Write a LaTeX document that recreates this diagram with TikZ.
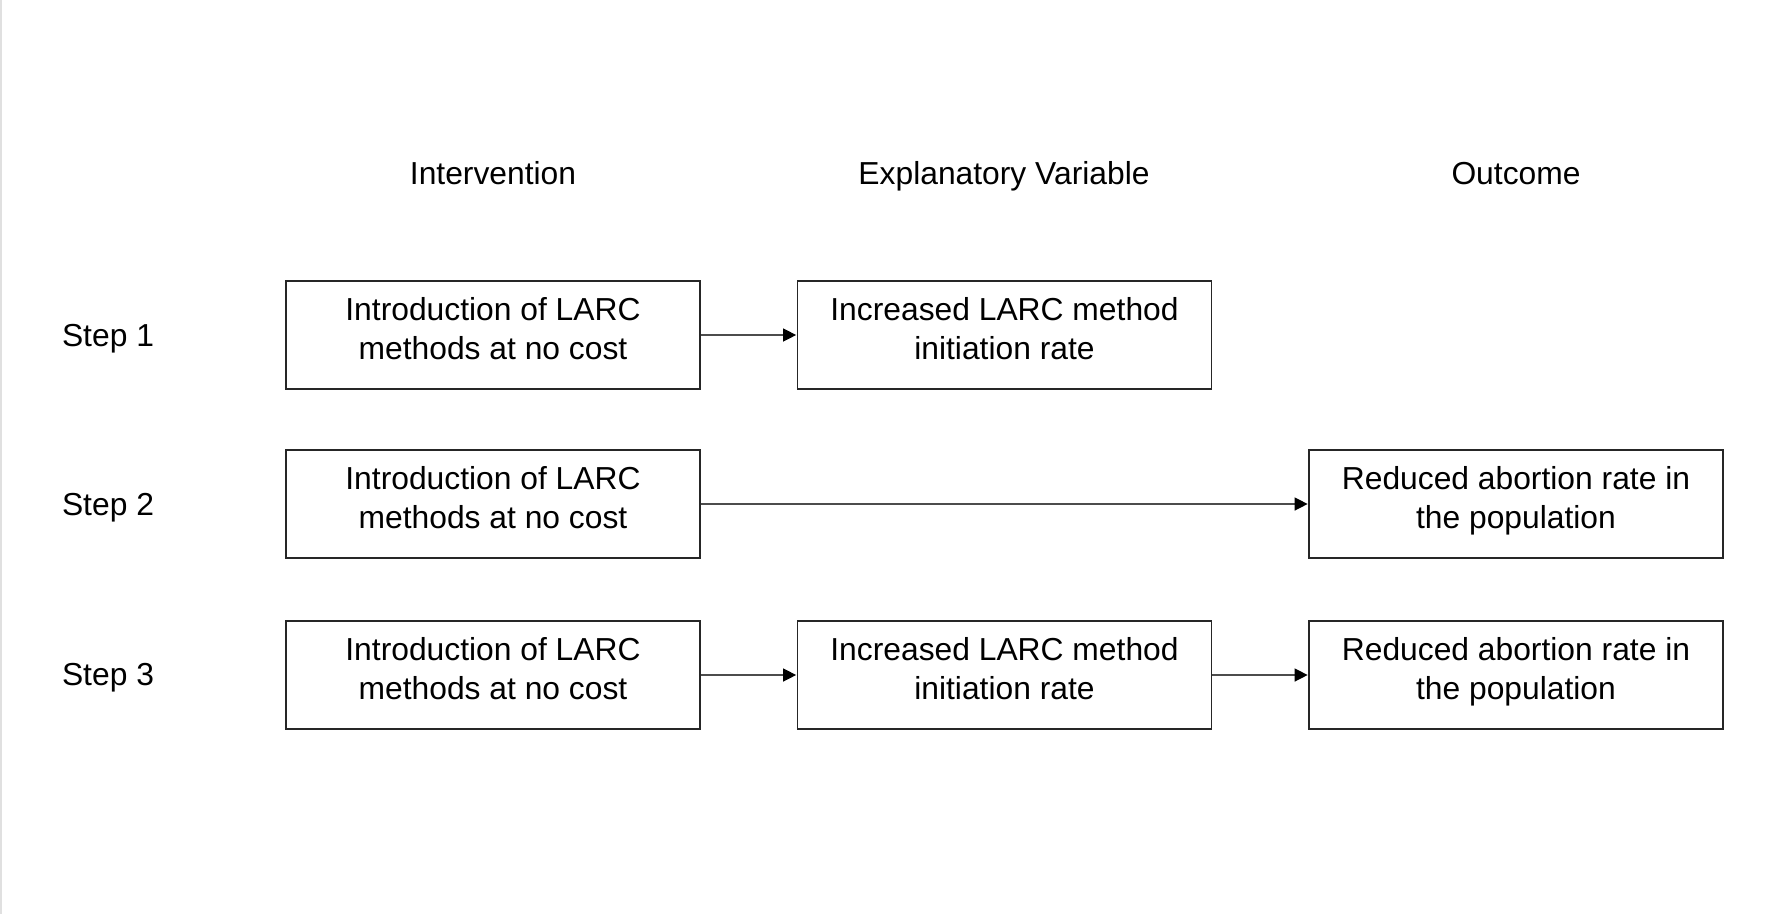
\documentclass[tikz,border=0pt]{standalone}
\usepackage{fontspec}
\setmainfont{Liberation Sans}
\usetikzlibrary{arrows.meta}
\begin{document}
\begin{tikzpicture}[x=1pt,y=-1pt,
  txt/.style={font=\fontsize{31.8}{39}\selectfont, inner sep=0pt, anchor=base},
  box/.style={draw=black!85, line width=1.7pt, minimum width=414pt, minimum height=108pt, align=center, inner sep=0pt, text height=77pt, text depth=29pt, font=\fontsize{31.8}{39}\selectfont},
  conn/.style={draw=black!70, line width=1.3pt, -{Triangle[length=13pt,width=13pt,black]}, shorten >=0.5pt}
]
\useasboundingbox (0,0) rectangle (1773,914);
\fill[white] (0,0) rectangle (1773,914);
\draw[black!12, line width=2pt] (1,0) -- (1,914);

\node[txt] (h1) at (493,184) {Intervention};
\node[txt] (h2) at (1004,184) {Explanatory Variable};
\node[txt] (h3) at (1516,184) {Outcome};

\node[txt] (s1) at (108,346) {Step 1};
\node[txt] (s2) at (108,515) {Step 2};
\node[txt] (s3) at (108,685) {Step 3};

\node[box] (a1) at (493,335) {Introduction of LARC\\methods at no cost};
\node[box] (b1) at (1004.5,335) {Increased LARC method\\initiation rate};

\node[box] (a2) at (493,504) {Introduction of LARC\\methods at no cost};
\node[box] (c2) at (1516,504) {Reduced abortion rate in\\the population};

\node[box] (a3) at (493,675) {Introduction of LARC\\methods at no cost};
\node[box] (b3) at (1004.5,675) {Increased LARC method\\initiation rate};
\node[box] (c3) at (1516,675) {Reduced abortion rate in\\the population};

\draw[conn] (a1) -- (b1);
\draw[conn] (a2) -- (c2);
\draw[conn] (a3) -- (b3);
\draw[conn] (b3) -- (c3);
\end{tikzpicture}
\end{document}
